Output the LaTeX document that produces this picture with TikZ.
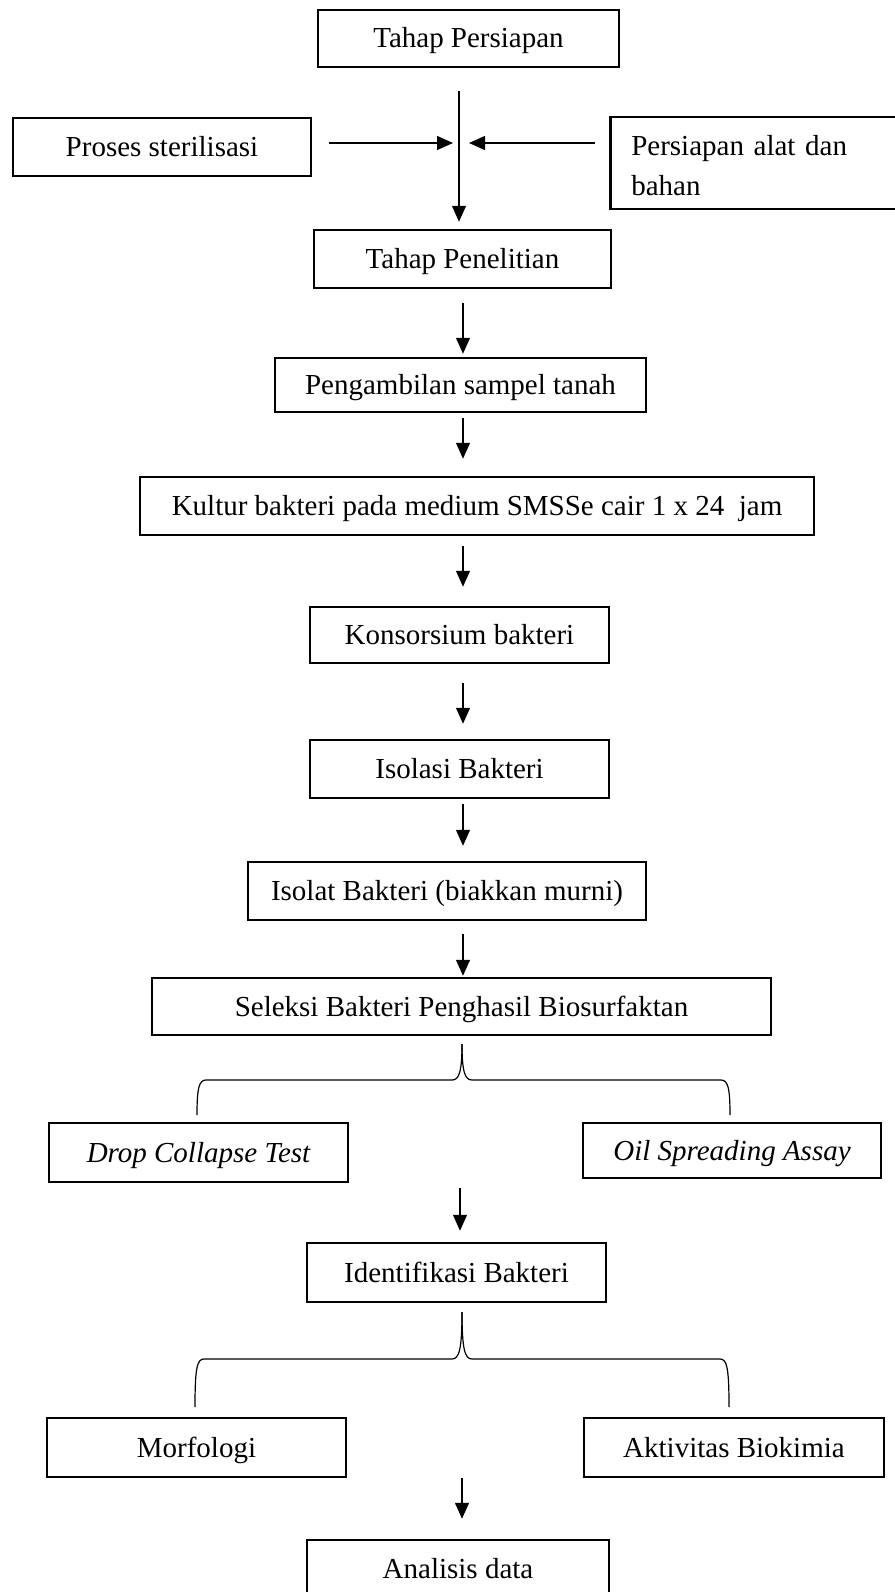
\documentclass[tikz,border=0pt]{standalone}
\usepackage{fontspec}
\setmainfont{Liberation Serif}
\usetikzlibrary{arrows.meta}
\begin{document}
\begin{tikzpicture}[x=1pt,y=-1pt,
  boxbase/.style={draw, line width=2.5pt, rectangle, inner sep=0pt, font=\fontsize{29}{40}\selectfont},
  box/.style={boxbase, text height=25pt, text depth=6pt},
  arr/.style={line width=1.3pt, -{Triangle[length=16pt,width=14pt]}},
  bracepath/.style={line width=1.2pt}]
\useasboundingbox (0,0) rectangle (894,1592);

% boxes
\node[box, minimum width=301pt, minimum height=57pt] (tp) at (468.5,38.5) {Tahap Persiapan};
\node[box, minimum width=298pt, minimum height=58pt] (pros) at (162,147) {Proses sterilisasi};
\node[boxbase, anchor=west, minimum height=92pt, text width=249pt, inner xsep=21pt, inner ysep=0pt, align=left] (pers) at (609,163) {\rule{0pt}{26pt}Persiapan alat dan\\bahan};
\node[box, minimum width=297pt, minimum height=58pt] (tpen) at (462.5,259) {Tahap Penelitian};
\node[box, minimum width=371pt, minimum height=54pt] (peng) at (460.5,385) {Pengambilan sampel tanah};
\node[box, minimum width=674pt, minimum height=58pt] (kult) at (477,506) {Kultur bakteri pada medium SMSSe cair 1 x 24\ \ jam};
\node[box, minimum width=299pt, minimum height=56pt] (kons) at (459.5,635) {Konsorsium bakteri};
\node[box, minimum width=299pt, minimum height=58pt] (isol) at (459.5,769) {Isolasi Bakteri};
\node[box, minimum width=398pt, minimum height=58pt] (isolat) at (447,891) {Isolat Bakteri (biakkan murni)};
\node[box, minimum width=619pt, minimum height=57pt] (sel) at (461.5,1006.5) {Seleksi Bakteri Penghasil Biosurfaktan};
\node[box, minimum width=299pt, minimum height=59pt] (drop) at (198.5,1152.5) {\itshape Drop Collapse Test};
\node[box, minimum width=298pt, minimum height=55pt] (oil) at (732,1150.5) {\itshape Oil Spreading Assay};
\node[box, minimum width=299pt, minimum height=59pt] (iden) at (456.5,1272.5) {Identifikasi Bakteri};
\node[box, minimum width=299pt, minimum height=59pt] (morf) at (196.5,1447.5) {Morfologi};
\node[box, minimum width=300pt, minimum height=59pt] (akt) at (734,1447.5) {Aktivitas Biokimia};
\node[box, minimum width=302pt, minimum height=58pt] (anal) at (458,1569) {Analisis data};

% reference coordinates
\coordinate (mid) at (459,143);
\coordinate (axis) at (463,0);
\coordinate (a7) at (460,1188);
\coordinate (a8) at (462,1478);
\coordinate (b1) at (462,1044);
\coordinate (b2) at (462,1312);

% top junction
\draw[arr, shorten <=23pt, shorten >=7pt] (tp.south -| mid) -- (tpen.north -| mid);
\draw[arr, shorten <=17pt, shorten >=6pt] (pros.east |- mid) -- (mid);
\draw[arr, shorten <=14pt, shorten >=10pt] (pers.west |- mid) -- (mid);

% column arrows
\draw[arr, shorten <=14pt, shorten >=3pt] (tpen.south -| axis) -- (peng.north -| axis);
\draw[arr, shorten <=5pt, shorten >=17pt] (peng.south -| axis) -- (kult.north -| axis);
\draw[arr, shorten <=10pt, shorten >=19pt] (kult.south -| axis) -- (kons.north -| axis);
\draw[arr, shorten <=19pt, shorten >=15pt] (kons.south -| axis) -- (isol.north -| axis);
\draw[arr, shorten <=5pt, shorten >=15pt] (isol.south -| axis) -- (isolat.north -| axis);
\draw[arr, shorten <=13pt, shorten >=1pt] (isolat.south -| axis) -- (sel.north -| axis);
\draw[arr, shorten >=11pt] (a7) -- (a7 |- iden.north);
\draw[arr, shorten >=20pt] (a8) -- (a8 |- anal.north);

% braces
\draw[bracepath] (b1) .. controls (462,1072) and (459,1080) .. (452,1080) -- (206,1080)
  .. controls (199,1080) and (197,1088) .. (197,1115);
\draw[bracepath] (b1) .. controls (462,1072) and (465,1080) .. (472,1080) -- (721,1080)
  .. controls (728,1080) and (730,1088) .. (730,1115);
\draw[bracepath] (b2) .. controls (462,1350) and (459,1359) .. (452,1359) -- (204,1359)
  .. controls (197,1359) and (195,1368) .. (195,1407);
\draw[bracepath] (b2) .. controls (462,1350) and (465,1359) .. (472,1359) -- (720,1359)
  .. controls (727,1359) and (729,1368) .. (729,1407);
\end{tikzpicture}
\end{document}
